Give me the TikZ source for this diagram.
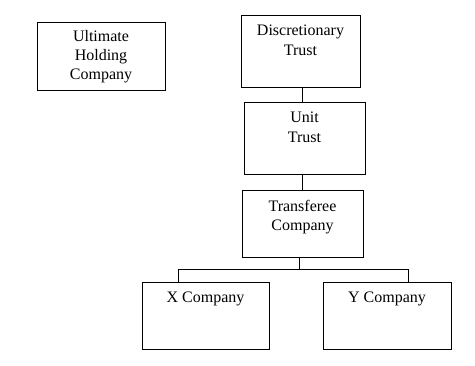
\documentclass[tikz,border=0pt]{standalone}
\usepackage{fontspec}
\setmainfont{Liberation Serif}
\begin{document}
\begin{tikzpicture}[x=0.75pt, y=-0.75pt, line cap=rect,
    every node/.style={font=\fontsize{12}{14.4}\selectfont},
    box/.style={draw, line width=0.75pt, inner sep=0pt, outer sep=0pt},
    toptext/.style={anchor=north, inner sep=7.5pt, align=center},
    link/.style={line width=0.75pt}]
  \useasboundingbox (0,0) rectangle (475,365);
  \node[box, minimum width=96pt, minimum height=51pt, align=center] (uhc) at (101,56.5)
    {Ultimate\\Holding\\Company};
  \node[box, minimum width=89.25pt, minimum height=54pt,
    label={[toptext]north:Discretionary\\Trust}] (dt) at (300.5,51) {};
  \node[box, minimum width=90.75pt, minimum height=54pt,
    label={[toptext]north:Unit\\Trust}] (ut) at (304.5,138) {};
  \node[box, minimum width=90.75pt, minimum height=50.25pt,
    label={[toptext]north:Transferee\\Company}] (tc) at (302.5,223.5) {};
  \node[box, minimum width=95.25pt, minimum height=50.25pt,
    label={[toptext]north:X Company}] (xco) at (205.5,315.5) {};
  \node[box, minimum width=96pt, minimum height=50.25pt,
    label={[toptext]north:Y Company}] (yco) at (387,315.5) {};
  \coordinate (mid) at (302,0);
  \coordinate (bus) at (299,269);
  \coordinate (xdrop) at (178,269);
  \coordinate (ydrop) at (408,269);
  \draw[link] (dt.south -| mid) -- (ut.north -| mid);
  \draw[link] (ut.south -| mid) -- (tc.north -| mid);
  \draw[link] (tc.south -| bus) -- (bus);
  \draw[link] (xco.north -| xdrop) -- (xdrop) -- (ydrop) -- (yco.north -| ydrop);
\end{tikzpicture}
\end{document}
